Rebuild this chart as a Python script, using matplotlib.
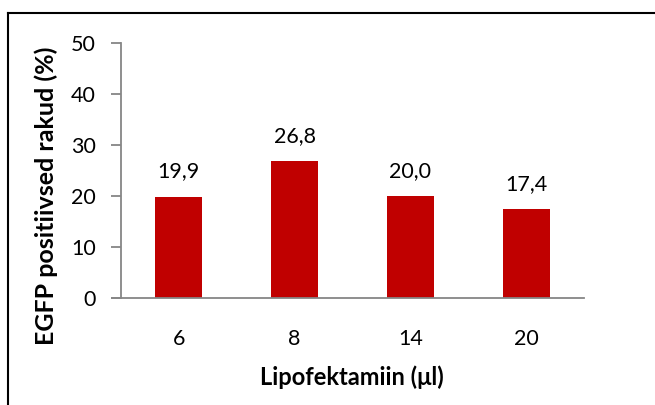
import matplotlib
matplotlib.use("Agg")
import matplotlib.pyplot as plt
from matplotlib.lines import Line2D

categories = ["6", "8", "14", "20"]
values = [19.9, 26.8, 20.0, 17.4]
labels = ["19,9", "26,8", "20,0", "17,4"]
yticks = [0, 10, 20, 30, 40, 50]

plt.rcParams['font.family'] = ['Lato', 'DejaVu Sans']

fig = plt.figure(figsize=(6.55, 4.05), dpi=100)
W, H = 655, 405
ax = fig.add_axes([121 / W, 1 - 298 / H, (584 - 121) / W, (298 - 43) / H])

x = list(range(len(categories)))
bars = ax.bar(x, values, width=0.405, color="#C00000", zorder=2)
ax.set_xlim(-0.5, len(categories) - 0.5)
ax.set_ylim(0, 50)
ax.set_yticks(yticks)
ax.set_xticks(x)
ax.set_xticklabels(categories)

for xi, v, lab in zip(x, values, labels):
    ax.annotate(lab, (xi, v), xytext=(0, 11), textcoords="offset points",
                ha="center", va="bottom", fontsize=15.5, color="black")

for s in ["top", "right"]:
    ax.spines[s].set_visible(False)
for s in ["left", "bottom"]:
    ax.spines[s].set_color("#868686")
    ax.spines[s].set_linewidth(1.3)
ax.spines["bottom"].set_bounds(-0.58, len(categories) - 0.5)

ax.tick_params(axis="y", length=7, width=1.3, color="#868686", labelsize=15.5, pad=11)
ax.tick_params(axis="x", length=0, labelsize=15.5, pad=22)

ax.set_ylabel("EGFP positiivsed rakud (%)", fontsize=18, fontweight="bold", va="center")
ax.yaxis.set_label_coords(-0.162, 0.40)
ax.set_xlabel("Lipofektamiin (\u03bcl)", fontsize=17, fontweight="bold", va="center")
ax.xaxis.set_label_coords(0.499, -0.31)

# chart border (only top and left visible in the reference crop)
fig.add_artist(Line2D([8 / W, 8 / W], [0, 1 - 13 / H], transform=fig.transFigure, color="black", lw=1.5))
fig.add_artist(Line2D([8 / W, 1], [1 - 13 / H, 1 - 13 / H], transform=fig.transFigure, color="black", lw=1.5))

fig.savefig("out.png", dpi=100)
